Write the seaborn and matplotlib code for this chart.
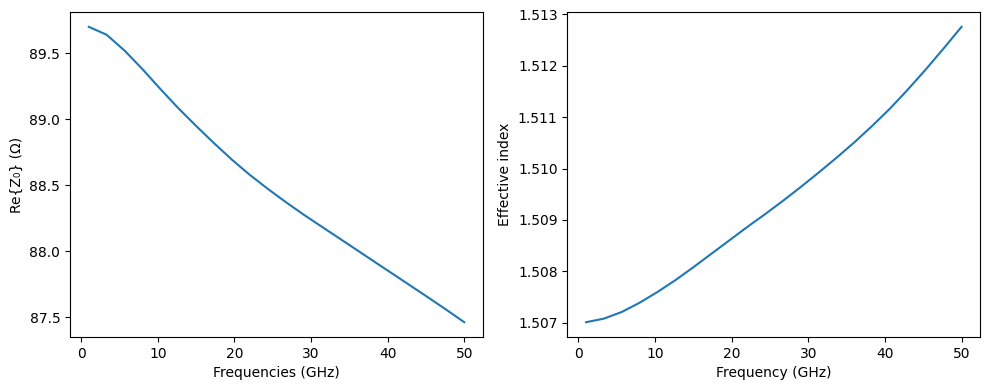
import numpy as np
import pandas as pd
import matplotlib
matplotlib.use("Agg")
import matplotlib.pyplot as plt
import seaborn as sns

freq = [1.0, 3.33, 5.67, 8.0, 10.33, 12.67, 15.0, 17.33, 19.67, 22.0, 24.33,
        26.67, 29.0, 31.33, 33.67, 36.0, 38.33, 40.67, 43.0, 45.33, 47.67, 50.0]
re_z0 = [89.700, 89.640, 89.520, 89.380, 89.230, 89.085, 88.950, 88.820, 88.695,
         88.580, 88.475, 88.375, 88.280, 88.190, 88.100, 88.010, 87.920, 87.830,
         87.740, 87.650, 87.558, 87.464]
n_eff = [1.50701, 1.50708, 1.50721, 1.50739, 1.50760, 1.50783, 1.50808, 1.50834,
         1.50860, 1.50886, 1.50911, 1.50937, 1.50964, 1.50992, 1.51021, 1.51051,
         1.51083, 1.51117, 1.51154, 1.51193, 1.51234, 1.51276]

df = pd.DataFrame({"freq": freq, "z0": re_z0, "neff": n_eff})

fig, (ax1, ax2) = plt.subplots(1, 2, figsize=(9.89, 3.89), dpi=100)

sns.lineplot(data=df, x="freq", y="z0", ax=ax1, color="#1f77b4")
ax1.set_xlabel("Frequencies (GHz)")
ax1.set_ylabel("Re{Z₀} (Ω)")

sns.lineplot(data=df, x="freq", y="neff", ax=ax2, color="#1f77b4")
ax2.set_xlabel("Frequency (GHz)")
ax2.set_ylabel("Effective index")
ax2.ticklabel_format(axis="y", useOffset=False)

fig.subplots_adjust(left=0.0708, right=0.9912, top=0.969, bottom=0.1337, wspace=0.204)
fig.savefig("out.png", dpi=100)
